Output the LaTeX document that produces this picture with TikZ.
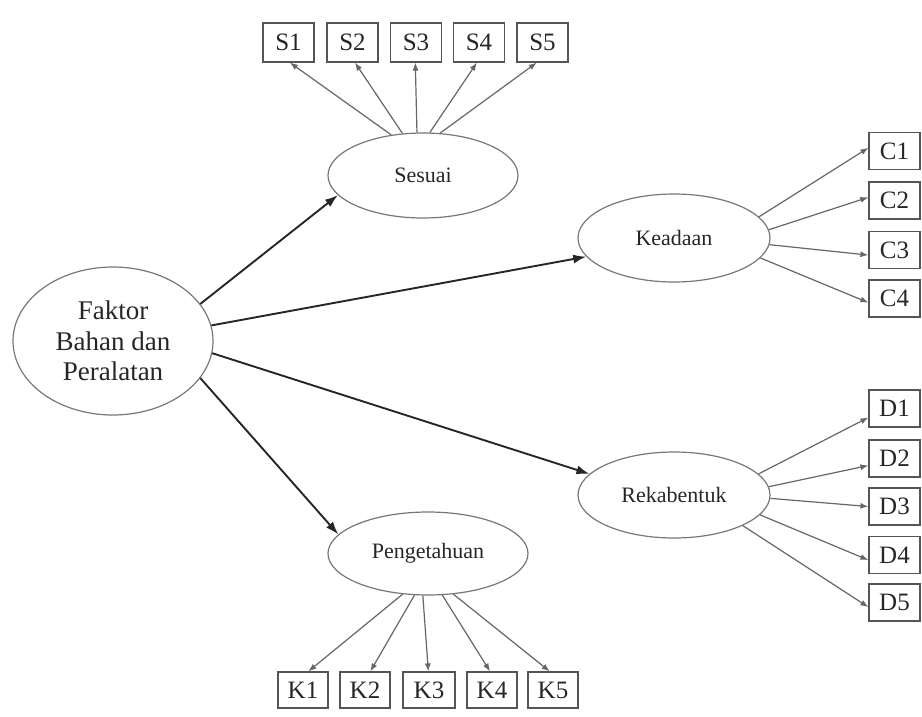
\documentclass[tikz,border=0pt]{standalone}
\usepackage{fontspec}
\setmainfont{Liberation Serif}
\usetikzlibrary{shapes.geometric,arrows.meta}
\definecolor{lc}{HTML}{666666}
\definecolor{mc}{HTML}{262626}
\definecolor{ec}{HTML}{777777}
\definecolor{bc}{HTML}{555555}
\definecolor{tc}{HTML}{262626}
\begin{document}
\begin{tikzpicture}[x=1pt,y=-1pt,
  lat/.style={ellipse,draw=ec,line width=1.2pt,inner sep=0pt,text=tc,font=\fontsize{22}{24}\selectfont},
  ind/.style={rectangle,draw=bc,line width=1.2pt,minimum width=51pt,minimum height=38pt,inner sep=0pt,text=tc,font=\fontsize{25}{27}\selectfont},
  mainarr/.style={draw=mc,line width=1.9pt,-{Latex[length=13pt,width=9pt]}},
  smallarr/.style={draw=lc,line width=1.2pt,-{Latex[length=8pt,width=6pt]}}]
\useasboundingbox (0,0) rectangle (922,716);
% latent variables
\node[lat,minimum width=200pt,minimum height=148pt,font=\fontsize{27}{30.5}\selectfont,align=center] (F) at (113,341) {Faktor\\Bahan dan\\Peralatan};
\node[lat,minimum width=190pt,minimum height=85pt] (Ses) at (423,175.5) {Sesuai};
\node[lat,minimum width=192pt,minimum height=88pt] (Kea) at (674,238) {Keadaan};
\node[lat,minimum width=192pt,minimum height=86pt] (Rek) at (674,495) {Rekabentuk};
\node[lat,minimum width=200pt,minimum height=83pt] (Pen) at (428,553.5) {Pengetahuan};
% indicators
\node[ind,minimum height=39pt] (S1) at (288.5,42.5) {S1};
\node[ind,minimum height=39pt] (S2) at (352.5,42.5) {S2};
\node[ind,minimum height=39pt] (S3) at (416,42.5) {S3};
\node[ind,minimum height=39pt] (S4) at (479,42.5) {S4};
\node[ind,minimum height=39pt] (S5) at (542.5,42.5) {S5};
\node[ind,minimum height=37pt] (C1) at (894.5,151) {C1};
\node[ind,minimum height=37pt] (C2) at (894.5,200.5) {C2};
\node[ind,minimum height=37pt] (C3) at (894.5,250) {C3};
\node[ind,minimum height=37pt] (C4) at (894.5,298.5) {C4};
\node[ind,minimum height=37pt] (D1) at (894.5,408.5) {D1};
\node[ind,minimum height=37pt] (D2) at (894.5,458.5) {D2};
\node[ind,minimum height=37pt] (D3) at (894.5,506.5) {D3};
\node[ind,minimum height=37pt] (D4) at (894.5,555) {D4};
\node[ind,minimum height=37pt] (D5) at (894.5,602.5) {D5};
\node[ind,minimum width=50pt,minimum height=36pt] (K1) at (303,690) {K1};
\node[ind,minimum width=50pt,minimum height=36pt] (K2) at (365,690) {K2};
\node[ind,minimum width=52pt,minimum height=36pt] (K3) at (429,690) {K3};
\node[ind,minimum width=50pt,minimum height=36pt] (K4) at (492,690) {K4};
\node[ind,minimum width=50pt,minimum height=36pt] (K5) at (553,690) {K5};
% structural paths
\draw[mainarr] (F.23) -- (Ses.193);
\draw[mainarr] (F.9) -- (Kea.192);
\draw[mainarr] (F.353) -- (Rek.166);
\draw[mainarr] (F.337) -- (Pen.168);
% measurement paths
\foreach \a/\t/\b in {128/S1/274,116/S2/277,98/S3/268,81/S4/264,68/S5/254}
  \draw[smallarr] (Ses.\a) -- (\t.\b);
\foreach \a/\t/\b in {14/C1/173,5/C2/173,356/C3/191,347/C4/189}
  \draw[smallarr] (Kea.\a) -- (\t.\b);
\foreach \a/\t/\b in {14/D1/199,5/D2/195,358/D3/180,347/D4/191,336/D5/190}
  \draw[smallarr] (Rek.\a) -- (\t.\b);
\foreach \a/\t/\b in {238/K1/74,252/K2/74,263/K3/92,289/K4/96,302/K5/100}
  \draw[smallarr] (Pen.\a) -- (\t.\b);
\end{tikzpicture}
\end{document}
